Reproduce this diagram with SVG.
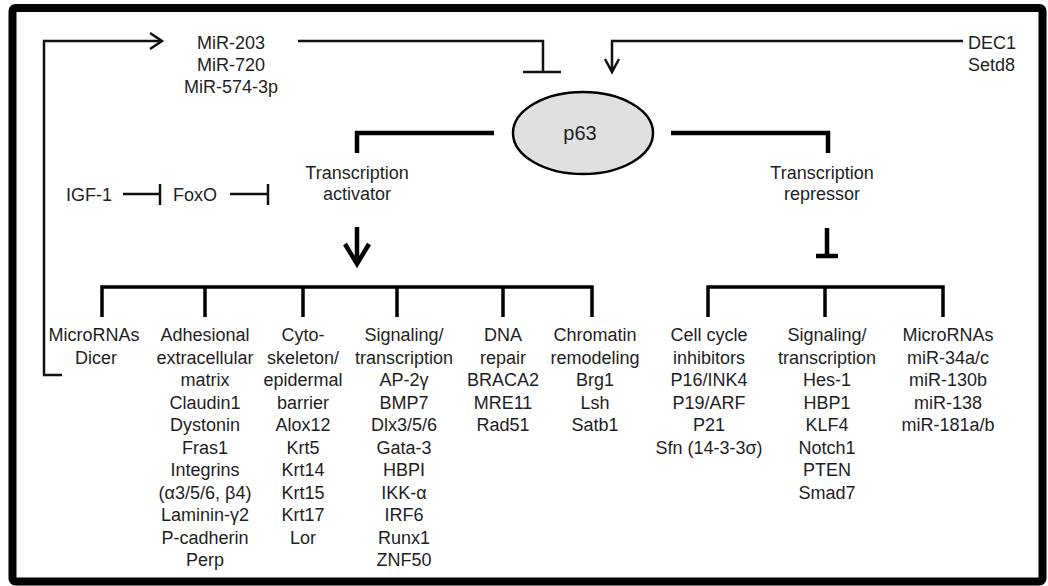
<svg xmlns="http://www.w3.org/2000/svg" width="1048" height="586" viewBox="0 0 1048 586">
<defs>
<style>
text{font-family:"Liberation Sans",Arial,Helvetica,sans-serif;font-size:18px;fill:#1e1e1e;text-anchor:middle}
.thin{fill:none;stroke:#111;stroke-width:2.5}
.thick{fill:none;stroke:#000;stroke-width:4.5}
.br{fill:none;stroke:#000;stroke-width:3.5}
</style>
</defs>
<rect x="0" y="0" width="1048" height="586" fill="#fff"/>
<rect x="12.5" y="8" width="1030" height="573.5" rx="3" fill="#fff" stroke="#000" stroke-width="8"/>
<g id="connectors">
<path class="thin" d="M62,375 H44 V41 H162"/>
<path class="thin" d="M150,33 L162,41 L150,49"/>
<path class="thin" d="M298,41 H543 V72 M523,72 H561"/>
<path class="thin" d="M963,41 H612 V72 M605,59 L612,72 L619,59"/>
<path class="thick" d="M494,133 H357 V153"/>
<path class="thick" d="M671,133 H828 V153"/>
<path class="thick" d="M357,227 V263 M345,244 L357,264 L369,244"/>
<path class="thick" d="M827,228 V256 M816,256 H838"/>
<path class="thin" d="M123,194 H160 M160,184 V205"/>
<path class="thin" d="M230,194 H268 M268,184 V205"/>
<path class="br" d="M102,317 V287 H592 V317 M205,287 V317 M303,287 V317 M397,287 V317 M503,287 V317"/>
<path class="br" d="M708,317 V287 H943 V317 M825,287 V317"/>
</g>
<g id="p63">
<ellipse cx="583" cy="133" rx="70" ry="41" fill="#e0e0e0" stroke="#000" stroke-width="2.5"/>
<text x="580" y="140" style="font-size:20px">p63</text>
</g>
<g id="mirs">
<text x="231" y="49">MiR-203</text>
<text x="231" y="71">MiR-720</text>
<text x="231" y="93">MiR-574-3p</text>
</g>
<g id="dec1">
<text x="968" y="49" style="text-anchor:start">DEC1</text>
<text x="968" y="71" style="text-anchor:start">Setd8</text>
</g>
<g id="igf1"><text x="89" y="201">IGF-1</text></g>
<g id="foxo"><text x="195" y="201">FoxO</text></g>
<g id="activator">
<text x="357" y="179">Transcription</text>
<text x="357" y="200">activator</text>
</g>
<g id="repressor">
<text x="822" y="179">Transcription</text>
<text x="822" y="200">repressor</text>
</g>
<g id="col-micro">
<text x="94" y="341">MicroRNAs</text>
<text x="96" y="363.5">Dicer</text>
</g>
<g id="col-adhesion">
<text x="205" y="341">Adhesional</text>
<text x="205" y="363.5">extracellular</text>
<text x="205" y="386">matrix</text>
<text x="205" y="408.5">Claudin1</text>
<text x="205" y="431">Dystonin</text>
<text x="205" y="453.5">Fras1</text>
<text x="205" y="476">Integrins</text>
<text x="205" y="498.5">(α3/5/6, β4)</text>
<text x="205" y="521">Laminin-γ2</text>
<text x="205" y="543.5">P-cadherin</text>
<text x="205" y="566">Perp</text>
</g>
<g id="col-cyto">
<text x="303" y="341">Cyto-</text>
<text x="303" y="363.5">skeleton/</text>
<text x="303" y="386">epidermal</text>
<text x="303" y="408.5">barrier</text>
<text x="303" y="431">Alox12</text>
<text x="303" y="453.5">Krt5</text>
<text x="303" y="476">Krt14</text>
<text x="303" y="498.5">Krt15</text>
<text x="303" y="521">Krt17</text>
<text x="303" y="543.5">Lor</text>
</g>
<g id="col-signal-a">
<text x="404" y="341">Signaling/</text>
<text x="404" y="363.5">transcription</text>
<text x="404" y="386">AP-2γ</text>
<text x="404" y="408.5">BMP7</text>
<text x="404" y="431">Dlx3/5/6</text>
<text x="404" y="453.5">Gata-3</text>
<text x="404" y="476">HBPI</text>
<text x="404" y="498.5">IKK-α</text>
<text x="404" y="521">IRF6</text>
<text x="404" y="543.5">Runx1</text>
<text x="404" y="566">ZNF50</text>
</g>
<g id="col-dna">
<text x="503" y="341">DNA</text>
<text x="503" y="363.5">repair</text>
<text x="503" y="386">BRACA2</text>
<text x="503" y="408.5">MRE11</text>
<text x="503" y="431">Rad51</text>
</g>
<g id="col-chromatin">
<text x="595" y="341">Chromatin</text>
<text x="595" y="363.5">remodeling</text>
<text x="595" y="386">Brg1</text>
<text x="595" y="408.5">Lsh</text>
<text x="595" y="431">Satb1</text>
</g>
<g id="col-cellcycle">
<text x="709" y="341">Cell cycle</text>
<text x="709" y="363.5">inhibitors</text>
<text x="709" y="386">P16/INK4</text>
<text x="709" y="408.5">P19/ARF</text>
<text x="709" y="431">P21</text>
<text x="709" y="453.5">Sfn (14-3-3σ)</text>
</g>
<g id="col-signal-r">
<text x="827" y="341">Signaling/</text>
<text x="827" y="363.5">transcription</text>
<text x="827" y="386">Hes-1</text>
<text x="827" y="408.5">HBP1</text>
<text x="827" y="431">KLF4</text>
<text x="827" y="453.5">Notch1</text>
<text x="827" y="476">PTEN</text>
<text x="827" y="498.5">Smad7</text>
</g>
<g id="col-mirna-r">
<text x="948" y="341">MicroRNAs</text>
<text x="948" y="363.5">miR-34a/c</text>
<text x="948" y="386">miR-130b</text>
<text x="948" y="408.5">miR-138</text>
<text x="948" y="431">miR-181a/b</text>
</g>
</svg>
